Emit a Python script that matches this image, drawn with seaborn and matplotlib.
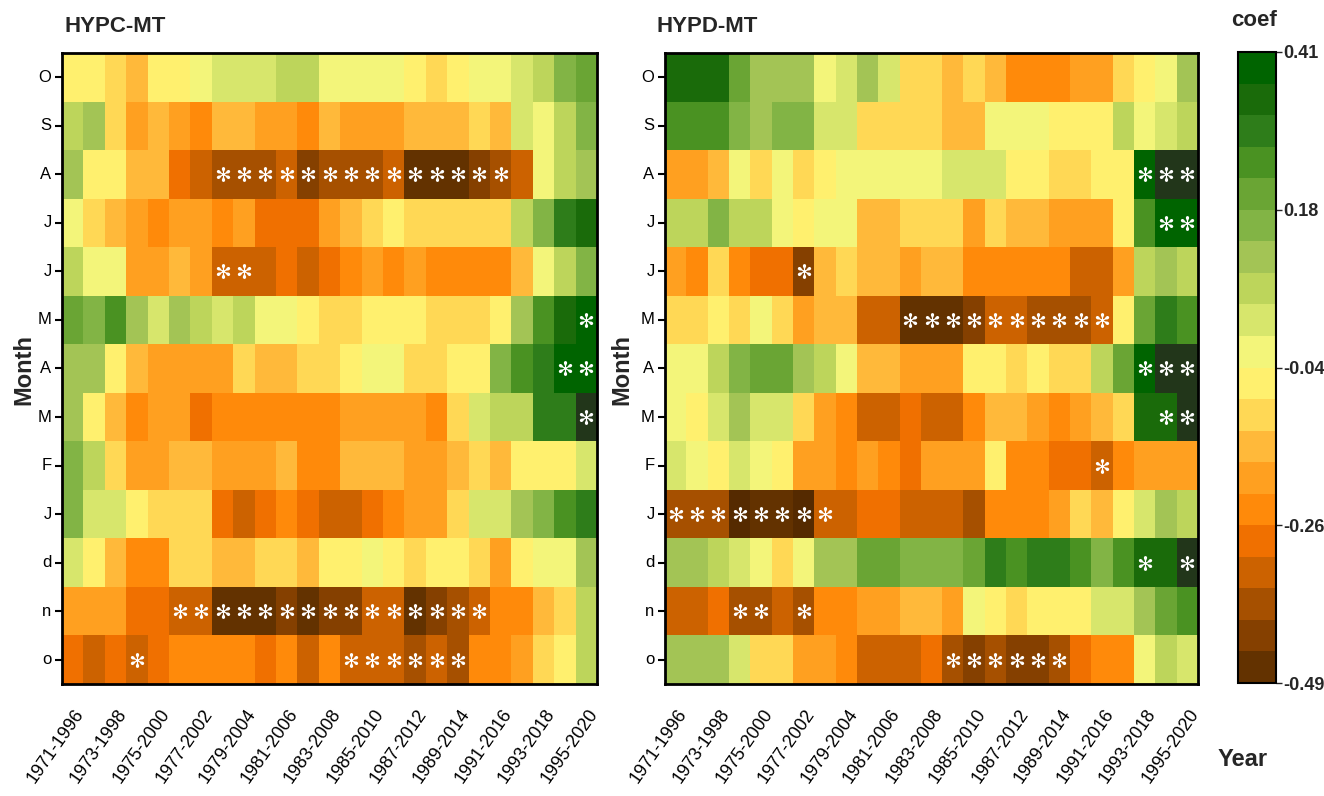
import numpy as np
import pandas as pd
import seaborn as sns
import matplotlib
matplotlib.use("Agg")
import matplotlib.pyplot as plt
from matplotlib.colors import ListedColormap, BoundaryNorm
from matplotlib.transforms import ScaledTranslation

# ---------------- data ----------------
months = ['O', 'S', 'A', 'J', 'J', 'M', 'A', 'M', 'F', 'J', 'd', 'n', 'o']
periods = ['1971-1996', '1972-1997', '1973-1998', '1974-1999', '1975-2000',
           '1976-2001', '1977-2002', '1978-2003', '1979-2004', '1980-2005',
           '1981-2006', '1982-2007', '1983-2008', '1984-2009', '1985-2010',
           '1986-2011', '1987-2012', '1988-2013', '1989-2014', '1990-2015',
           '1991-2016', '1992-2017', '1993-2018', '1994-2019', '1995-2020']

hypc_mt = [
    [-0.06,-0.06,-0.11,-0.15,-0.06,-0.06,-0.02,0.03,0.03,0.03,0.07,0.07,-0.02,-0.02,-0.02,-0.02,-0.06,-0.11,-0.06,-0.02,-0.02,0.03,0.07,0.16,0.21],
    [0.07,0.12,-0.11,-0.20,-0.15,-0.20,-0.24,-0.15,-0.15,-0.20,-0.20,-0.24,-0.15,-0.20,-0.20,-0.20,-0.15,-0.15,-0.15,-0.11,-0.15,0.03,-0.02,0.07,0.16],
    [0.12,-0.06,-0.06,-0.15,-0.15,-0.29,-0.33,-0.38,-0.38,-0.38,-0.33,-0.42,-0.38,-0.38,-0.38,-0.33,-0.47,-0.47,-0.47,-0.42,-0.38,-0.33,-0.02,0.07,0.12],
    [-0.02,-0.11,-0.15,-0.20,-0.24,-0.20,-0.20,-0.24,-0.20,-0.29,-0.29,-0.29,-0.20,-0.15,-0.11,-0.06,-0.11,-0.11,-0.11,-0.11,-0.11,0.07,0.16,0.30,0.34],
    [0.07,-0.02,-0.02,-0.20,-0.20,-0.15,-0.20,-0.33,-0.33,-0.33,-0.29,-0.33,-0.29,-0.24,-0.20,-0.24,-0.20,-0.24,-0.24,-0.24,-0.24,-0.15,-0.02,0.07,0.16],
    [0.21,0.16,0.25,0.12,0.03,0.12,0.07,0.03,0.07,-0.02,-0.02,-0.06,-0.11,-0.11,-0.06,-0.06,-0.06,-0.11,-0.11,-0.11,-0.06,0.12,0.25,0.34,0.39],
    [0.12,0.12,-0.06,-0.15,-0.20,-0.20,-0.20,-0.20,-0.11,-0.15,-0.15,-0.11,-0.11,-0.06,-0.02,-0.02,-0.11,-0.11,-0.06,-0.06,0.16,0.25,0.30,0.39,0.39],
    [0.12,-0.06,-0.15,-0.24,-0.20,-0.20,-0.29,-0.24,-0.24,-0.24,-0.24,-0.24,-0.24,-0.20,-0.20,-0.20,-0.20,-0.24,-0.11,0.03,0.07,0.07,0.30,0.30,0.44],
    [0.16,0.07,-0.11,-0.20,-0.20,-0.15,-0.15,-0.20,-0.20,-0.20,-0.15,-0.24,-0.24,-0.15,-0.15,-0.15,-0.20,-0.20,-0.15,-0.11,-0.15,-0.06,-0.06,-0.06,0.03],
    [0.16,0.03,0.03,-0.06,-0.11,-0.11,-0.11,-0.29,-0.33,-0.29,-0.24,-0.29,-0.33,-0.33,-0.29,-0.24,-0.20,-0.20,-0.11,0.03,0.03,0.12,0.16,0.25,0.30],
    [0.03,-0.06,-0.15,-0.24,-0.24,-0.11,-0.11,-0.15,-0.15,-0.11,-0.11,-0.15,-0.06,-0.06,-0.02,-0.06,-0.11,-0.06,-0.06,-0.11,-0.20,-0.06,-0.02,-0.02,0.12],
    [-0.20,-0.20,-0.20,-0.29,-0.29,-0.33,-0.33,-0.47,-0.47,-0.47,-0.42,-0.47,-0.42,-0.42,-0.33,-0.33,-0.47,-0.42,-0.38,-0.33,-0.24,-0.24,-0.15,-0.11,0.07],
    [-0.29,-0.33,-0.29,-0.33,-0.29,-0.24,-0.24,-0.24,-0.24,-0.29,-0.24,-0.33,-0.24,-0.33,-0.33,-0.33,-0.38,-0.33,-0.38,-0.24,-0.24,-0.20,-0.11,-0.06,0.07],
]

hypd_mt = [
    [0.34,0.34,0.34,0.21,0.12,0.12,0.12,-0.02,0.03,0.12,0.03,-0.11,-0.11,-0.15,-0.11,-0.15,-0.24,-0.24,-0.24,-0.20,-0.20,-0.11,-0.06,-0.02,0.12],
    [0.25,0.25,0.25,0.16,0.12,0.16,0.16,0.03,0.03,-0.11,-0.11,-0.11,-0.11,-0.15,-0.15,-0.02,-0.02,-0.02,-0.06,-0.06,-0.06,0.07,-0.02,0.03,0.07],
    [-0.20,-0.20,-0.15,-0.02,-0.11,-0.02,-0.11,-0.06,-0.02,-0.02,-0.02,-0.02,-0.02,0.03,0.03,0.03,-0.06,-0.06,-0.11,-0.11,-0.06,-0.06,0.39,0.44,0.44],
    [0.07,0.07,0.16,0.07,0.07,-0.02,-0.06,-0.02,-0.02,-0.15,-0.15,-0.11,-0.11,-0.11,-0.20,-0.11,-0.15,-0.15,-0.20,-0.20,-0.20,-0.06,0.25,0.39,0.39],
    [-0.20,-0.24,-0.11,-0.24,-0.29,-0.29,-0.42,-0.15,-0.11,-0.15,-0.15,-0.20,-0.15,-0.15,-0.24,-0.24,-0.24,-0.24,-0.24,-0.33,-0.33,-0.20,0.07,0.12,0.07],
    [-0.11,-0.11,-0.06,-0.11,-0.02,-0.11,-0.20,-0.15,-0.15,-0.33,-0.33,-0.47,-0.47,-0.47,-0.42,-0.33,-0.33,-0.38,-0.38,-0.38,-0.33,-0.06,0.21,0.30,0.25],
    [-0.02,-0.02,0.07,0.16,0.21,0.21,0.12,0.07,-0.02,-0.15,-0.15,-0.20,-0.20,-0.20,-0.06,-0.06,-0.11,-0.06,-0.11,-0.11,0.07,0.21,0.39,0.44,0.44],
    [-0.02,-0.06,0.03,0.12,0.03,0.03,-0.11,-0.20,-0.24,-0.33,-0.33,-0.29,-0.33,-0.33,-0.24,-0.15,-0.15,-0.20,-0.24,-0.20,-0.15,-0.11,0.34,0.34,0.44],
    [0.03,-0.02,-0.06,0.03,-0.02,-0.06,-0.20,-0.20,-0.24,-0.20,-0.24,-0.29,-0.20,-0.20,-0.20,-0.06,-0.24,-0.24,-0.29,-0.29,-0.33,-0.24,-0.20,-0.20,-0.20],
    [-0.38,-0.38,-0.38,-0.52,-0.47,-0.47,-0.52,-0.33,-0.33,-0.29,-0.29,-0.33,-0.33,-0.33,-0.38,-0.24,-0.24,-0.24,-0.20,-0.11,-0.15,-0.06,0.03,0.12,0.07],
    [0.12,0.12,0.07,0.03,-0.02,-0.11,-0.02,0.12,0.12,0.21,0.21,0.16,0.16,0.16,0.21,0.30,0.25,0.30,0.30,0.25,0.16,0.25,0.34,0.34,0.44],
    [-0.33,-0.33,-0.29,-0.38,-0.38,-0.33,-0.38,-0.24,-0.24,-0.20,-0.20,-0.15,-0.15,-0.20,-0.02,-0.06,-0.11,-0.06,-0.06,-0.06,0.03,0.03,0.12,0.21,0.25],
    [0.12,0.12,0.12,0.03,-0.11,-0.11,-0.20,-0.20,-0.24,-0.33,-0.33,-0.33,-0.29,-0.38,-0.42,-0.38,-0.42,-0.42,-0.38,-0.29,-0.24,-0.24,-0.02,0.07,0.03],
]

# significant cells: (row index, column index)
hypc_sig_rows = [2]*14 + [4, 4, 5, 6, 6, 7] + [11]*15 + [12]*7
hypc_sig_cols = [7, 8, 9, 10, 11, 12, 13, 14, 15, 16, 17, 18, 19, 20,
                 7, 8, 24, 23, 24, 24,
                 5, 6, 7, 8, 9, 10, 11, 12, 13, 14, 15, 16, 17, 18, 19,
                 3, 13, 14, 15, 16, 17, 18]
hypd_sig_rows = [2, 2, 2, 3, 3, 4] + [5]*10 + [6, 6, 6, 7, 7, 8] + [9]*8 + [10, 10, 11, 11, 11] + [12]*6
hypd_sig_cols = [22, 23, 24, 23, 24, 6,
                 11, 12, 13, 14, 15, 16, 17, 18, 19, 20,
                 22, 23, 24, 23, 24, 20,
                 0, 1, 2, 3, 4, 5, 6, 7,
                 22, 24, 3, 4, 6,
                 13, 14, 15, 16, 17, 18]

level_colors = ['#633200', '#854000', '#a65000', '#cc6200', '#f07000',
                '#ff8a0a', '#ffa020', '#ffb93a', '#ffd855', '#fff06e',
                '#f3f57a', '#d7e66c', '#bdd55b', '#a3c455', '#82b445',
                '#6aa534', '#4a9222', '#2e7d1a', '#1a6b0a', '#006400']
vmin, vmax = -0.49, 0.41
cbar_ticks = [-0.49, -0.265, -0.04, 0.185, 0.41]
cbar_labels = ['-0.49', '-0.26', '-0.04', '0.18', '0.41']

# ---------------- style ----------------
sns.set_style("white")
plt.rcParams['font.family'] = ['Liberation Sans', 'DejaVu Sans']

cmap = ListedColormap(level_colors)
cmap.set_over('#22361a')
cmap.set_under('#552a00')
norm = BoundaryNorm(np.linspace(vmin, vmax, len(level_colors) + 1), cmap.N)

W, H = 1324, 796
fig = plt.figure(figsize=(W / 100, H / 100), dpi=100)
ax1 = fig.add_axes([62 / W, 1 - 684 / H, 535 / W, 631 / H])
ax2 = fig.add_axes([665 / W, 1 - 684 / H, 533 / W, 631 / H])
cax = fig.add_axes([1238 / W, 1 - 683 / H, 38 / W, 631 / H])

df1 = pd.DataFrame(hypc_mt, index=months, columns=periods)
df2 = pd.DataFrame(hypd_mt, index=months, columns=periods)

sns.heatmap(df1, ax=ax1, cmap=cmap, norm=norm, cbar=False,
            xticklabels=2, yticklabels=months)
sns.heatmap(df2, ax=ax2, cmap=cmap, norm=norm, cbar=True, cbar_ax=cax,
            xticklabels=2, yticklabels=months)

for ax, rows, cols in ((ax1, hypc_sig_rows, hypc_sig_cols),
                       (ax2, hypd_sig_rows, hypd_sig_cols)):
    ax.scatter(np.array(cols) + 0.5, np.array(rows) + 0.5, marker='$\u273B$',
               s=115, c='white', linewidths=0, zorder=5)
    ax.set_xlim(0, 25)
    ax.set_ylim(13, 0)
    for sp in ax.spines.values():
        sp.set_visible(True)
        sp.set_linewidth(2)
        sp.set_color('black')
    ax.tick_params(axis='x', direction='in', length=8, width=1.5,
                   pad=16, labelsize=13, colors='black', bottom=True)
    ax.tick_params(axis='y', direction='out', length=5, width=1.5,
                   pad=2.5, labelsize=12, colors='black', left=True)
    ax.set_xlabel('')
    ax.set_ylabel('')
    for lab in ax.get_xticklabels():
        lab.set_rotation(55)
        lab.set_ha('right')
        lab.set_transform(lab.get_transform() + ScaledTranslation(0.15, 0, fig.dpi_scale_trans))
    for lab in ax.get_yticklabels():
        lab.set_rotation(0)

cb = ax2.collections[0].colorbar
cb.outline.set_visible(True)
cb.outline.set_linewidth(1.5)
cb.outline.set_edgecolor('black')
cb.set_ticks(cbar_ticks, labels=cbar_labels)
cax.minorticks_off()
cax.tick_params(which='minor', length=0)
cax.tick_params(which='major', length=4, width=1, labelsize=13, pad=1.5, right=True)
for t in cax.get_yticklabels():
    t.set_fontweight('bold')

fig.text(65 / W, 1 - 26 / H, 'HYPC-MT', fontsize=16, fontweight='bold', ha='left', va='center')
fig.text(656 / W, 1 - 26 / H, 'HYPD-MT', fontsize=16, fontweight='bold', ha='left', va='center')
fig.text(1254 / W, 1 - 20 / H, 'coef', fontsize=16, fontweight='bold', ha='center', va='center')
fig.text(1243 / W, 1 - 760 / H, 'Year', fontsize=17, fontweight='bold', ha='center', va='center')
fig.text(24 / W, 1 - 370 / H, 'Month', fontsize=17, fontweight='bold', ha='center', va='center', rotation=90)
fig.text(622 / W, 1 - 370 / H, 'Month', fontsize=17, fontweight='bold', ha='center', va='center', rotation=90)

fig.savefig('out.png', dpi=100)
